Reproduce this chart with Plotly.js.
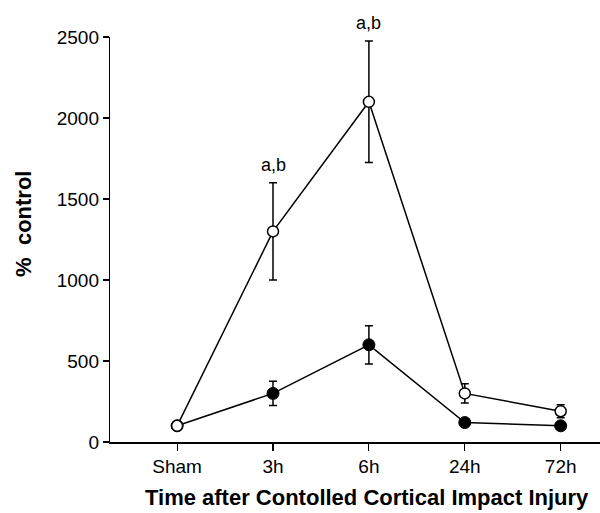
<!DOCTYPE html>
<html>
<head>
<meta charset="utf-8">
<script src="https://cdn.plot.ly/plotly-3.0.1.min.js"></script>
<style>html,body{margin:0;padding:0;background:#fff;}#chart{width:600px;height:513px;}</style>
</head>
<body>
<div id="chart"></div>
<script>
const categories = ['Sham', '3h', '6h', '24h', '72h'];
const openValues = [100, 1300, 2100, 300, 190];
const openErrors = [20, 300, 375, 60, 40];
const filledValues = [100, 300, 600, 120, 100];
const filledErrors = [15, 75, 118, 20, 15];
const sigLabels = ['', 'a,b', 'a,b', '', ''];
const yTicks = [0, 500, 1000, 1500, 2000, 2500];
const xTitle = 'Time after Contolled Cortical Impact Injury';
const yTitle = '%\u00A0\u00A0control';

const FONT = '"Liberation Sans", Arial, Helvetica, sans-serif';

const filled = {
  x: categories, y: filledValues, type: 'scatter', mode: 'lines+markers',
  line: {color: '#000', width: 1.5},
  marker: {symbol: 'circle', size: 12, color: '#000', line: {color: '#000', width: 1}},
  error_y: {type: 'data', array: filledErrors, visible: true, color: '#000', thickness: 1.5, width: 4},
  cliponaxis: false, showlegend: false, hoverinfo: 'skip'
};
const open = {
  x: categories, y: openValues, type: 'scatter', mode: 'lines+markers',
  line: {color: '#000', width: 1.5},
  marker: {symbol: 'circle', size: 11, color: '#fff', line: {color: '#000', width: 1.5}},
  error_y: {type: 'data', array: openErrors, visible: true, color: '#000', thickness: 1.5, width: 4},
  cliponaxis: false, showlegend: false, hoverinfo: 'skip'
};

const annotations = [];
sigLabels.forEach((t, i) => {
  if (t) annotations.push({
    x: categories[i], y: openValues[i] + openErrors[i], xref: 'x', yref: 'y',
    text: t, showarrow: false, yanchor: 'bottom', yshift: 6,
    font: {family: FONT, size: 18, color: '#000'}
  });
});
annotations.push({
  xref: 'paper', yref: 'paper', x: 0.5245, y: -0.138, xanchor: 'center', yanchor: 'middle',
  text: xTitle, showarrow: false, font: {family: FONT, size: 22, color: '#000', weight: 'bold'}
});
annotations.push({
  xref: 'paper', yref: 'paper', x: -0.178, y: 0.538, xanchor: 'center', yanchor: 'middle',
  textangle: -90, text: yTitle, showarrow: false, font: {family: FONT, size: 22, color: '#000', weight: 'bold'}
});

const layout = {
  width: 600, height: 513,
  margin: {l: 110, r: 0, t: 37, b: 71, pad: 0},
  paper_bgcolor: '#fff', plot_bgcolor: '#fff',
  font: {family: FONT, color: '#000'},
  xaxis: {
    type: 'category', range: [-0.7, 4.41],
    showgrid: false, zeroline: false, showline: true, linecolor: '#000', linewidth: 1.5,
    ticks: 'outside', ticklen: 7, tickwidth: 1.2, tickcolor: '#000',
    tickfont: {family: FONT, size: 19, color: '#000'}
  },
  yaxis: {
    range: [0, 2500], tickvals: yTicks, ticktext: yTicks.map(String),
    showgrid: false, zeroline: false, showline: true, linecolor: '#000', linewidth: 1.2,
    ticks: 'outside', ticklen: 6, tickwidth: 1.2, tickcolor: '#000',
    tickfont: {family: FONT, size: 19, color: '#000'}
  },
  annotations: annotations
};

Plotly.newPlot('chart', [filled, open], layout, {displayModeBar: false, staticPlot: true});
</script>
</body>
</html>
